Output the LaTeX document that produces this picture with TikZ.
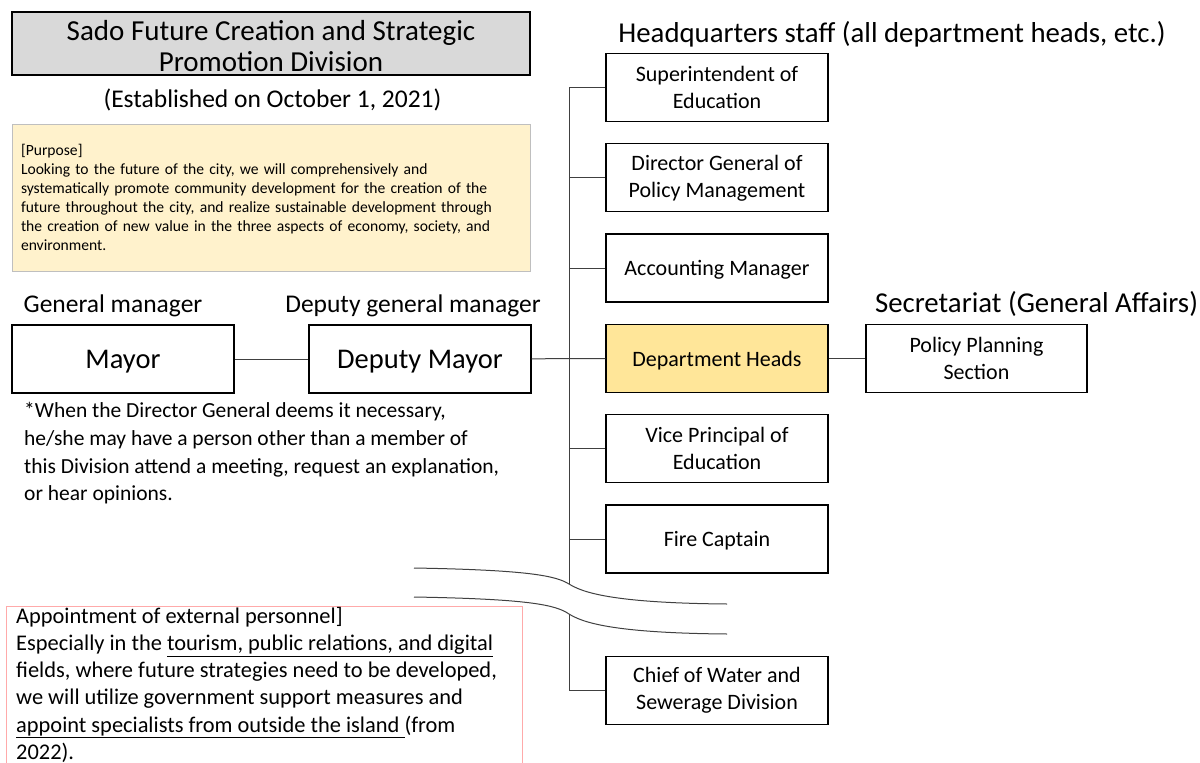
\documentclass[tikz,border=0pt]{standalone}
\usepackage{fontspec}
\setmainfont{Carlito}
\usepackage{tikz}
\definecolor{titlegray}{RGB}{217,217,217}
\definecolor{purposefill}{RGB}{255,242,204}
\definecolor{purposeline}{RGB}{191,191,191}
\definecolor{headfill}{RGB}{255,230,153}
\definecolor{apptred}{RGB}{255,170,170}
\definecolor{wire}{RGB}{64,64,64}
\newcommand{\fs}[2]{\fontsize{#1}{#2}\selectfont}

\begin{document}
\begin{tikzpicture}[x=1pt,y=-1pt,
    post/.style={draw,line width=1.3pt,minimum width=222pt,minimum height=68pt,align=center,font=\fs{22}{27}},
    wire/.style={draw=wire,line width=1pt}]
      \useasboundingbox (0,0) rectangle (1200,763);
      % left column
      \node[draw,line width=1.3pt,fill=titlegray,minimum width=518pt,minimum height=59pt,inner sep=0pt,font=\fs{29}{31.5}] (title) at (271,43.5) {\raisebox{-6pt}[\height][\depth]{\begin{tabular}{@{}c@{}}Sado Future Creation and Strategic\\Promotion Division\end{tabular}}};
      \node[font=\fs{25.5}{30}] (est) at (272.5,100) {(Established on October 1, 2021)};
      \node[draw=purposeline,fill=purposefill,minimum width=518pt,minimum height=147pt,text width=500pt,align=left,font=\fs{15.6}{19}] (purpose) at (271,197.5) {[Purpose]\\Looking to the future of the city, we will comprehensively and\\systematically promote community development for the creation of the\\future throughout the city, and realize sustainable development through\\the creation of new value in the three aspects of economy, society, and\\environment.};
      \node[font=\fs{25.5}{30}] (gmlabel)  at (113,306) {General manager};
      \node[font=\fs{25.5}{30}] (dgmlabel) at (413,306) {Deputy general manager};
      \node[draw,line width=1.3pt,minimum width=222pt,minimum height=68pt,text depth=0pt,font=\fs{28.5}{32}] (mayor)  at (123,359) {Mayor};
      \node[draw,line width=1.3pt,minimum width=222pt,minimum height=68pt,text depth=0pt,font=\fs{28.5}{32}] (deputy) at (420,359) {Deputy Mayor};
      \node[anchor=north west,inner sep=0pt,align=left,font=\fs{21.5}{27.6}] (note) at (24,402.5) {*When the Director General deems it necessary,\\he/she may have a person other than a member of\\this Division attend a meeting, request an explanation,\\or hear opinions.};
      % right column
      \node[font=\fs{28.8}{32}] (hqlabel)  at (892,34)  {Headquarters staff (all department heads, etc.)};
      \node[post] (sup) at (717,87.5) {Superintendent of\\Education};
      \node[post,below of=sup,node distance=90.3pt] (pm) {Director General of\\Policy Management};
      \node[post,text depth=0pt,below of=pm,node distance=90.3pt]  (am) {Accounting Manager};
      \node[post,text depth=0pt,fill=headfill,below of=am,node distance=90.3pt] (heads) {Department Heads};
      \node[post,below of=heads,node distance=90.3pt] (vice) {Vice Principal of\\Education};
      \node[post,text depth=0pt,below of=vice,node distance=90.3pt]  (fire) {Fire Captain};
      \node[post,below of=fire,node distance=151.5pt] (chief) {Chief of Water and\\Sewerage Division};
      \node[font=\fs{28.8}{32}] (seclabel) at (1036.5,304) {Secretariat (General Affairs)};
      \node[post,minimum width=221pt,right of=heads,node distance=259.5pt] (policy) {Policy Planning\\Section};
      % connectors
      \coordinate (cut1) at (569,584);
      \coordinate (cut2) at (569,614);
      \draw[wire] (mayor) -- (deputy);
      \draw[wire] (deputy) -- (heads);
      \draw[wire] (heads) -- (policy);
      \draw[wire] (sup.west) -| (cut1);
      \draw[wire] (pm.west) -- (pm.west -| cut1);
      \draw[wire] (am.west) -- (am.west -| cut1);
      \draw[wire] (vice.west) -- (vice.west -| cut1);
      \draw[wire] (fire.west) -- (fire.west -| cut1);
      \draw[wire] (chief.west) -| (cut2);
      % break marks
      \draw[wire] (414,568) .. controls (530,570) and (556,576) .. (cut1) .. controls (582,592) and (610,603) .. (727,604);
      \draw[wire] (414,597) .. controls (530,599) and (556,605) .. (cut2) .. controls (582,622) and (610,633) .. (727,634);
      % appointment box
      \draw[apptred] (6,606) rectangle (522,775);
      \node[anchor=north west,inner sep=0pt,align=left,font=\fs{22.4}{27.2}] (appt) at (16,607) {Appointment of external personnel]\\Especially in the \underline{tourism, public relations, and digital}\\fields, where future strategies need to be developed,\\we will utilize government support measures and\\\underline{appoint specialists from outside the island }(from\\2022).};
    \end{tikzpicture}
\end{document}
